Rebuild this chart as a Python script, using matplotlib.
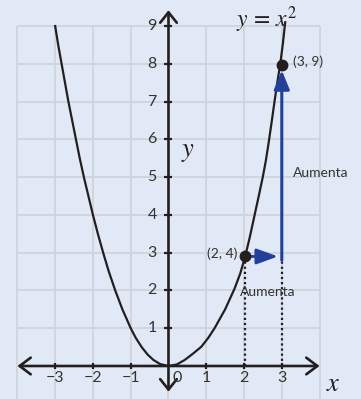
import numpy as np
import matplotlib
matplotlib.use("Agg")
import matplotlib.pyplot as plt

plt.rcParams['font.family'] = ['Lato', 'DejaVu Sans']
plt.rcParams['mathtext.fontset'] = 'stix'

# curve as drawn, left and right branches
left_x = [-3.0, -2.92, -2.83, -2.74, -2.65, -2.55, -2.45, -2.35, -2.24, -2.12, -2.0,
          -1.87, -1.73, -1.58, -1.41, -1.22, -1.0, -0.87, -0.71, -0.55, -0.4, -0.22, 0.0]
left_y = [9.0, 8.5, 8.0, 7.5, 7.0, 6.5, 6.0, 5.5, 5.0, 4.5, 4.0,
          3.5, 3.0, 2.5, 2.0, 1.5, 1.0, 0.75, 0.5, 0.3, 0.16, 0.05, 0.0]
right_x = [0.0, 0.22, 0.43, 0.64, 0.87, 1.05, 1.22, 1.5, 1.75, 1.9, 2.03, 2.15,
           2.27, 2.39, 2.5, 2.58, 2.65, 2.73, 2.8, 2.88, 2.96, 3.03, 3.09]
right_y = [0.0, 0.04, 0.16, 0.32, 0.51, 0.74, 1.0, 1.5, 2.05, 2.45, 2.9, 3.4,
           3.95, 4.5, 5.02, 5.45, 5.9, 6.45, 6.95, 7.5, 8.0, 8.55, 9.1]

# the two marked points (position on the picture and their labels)
pt_x = [2.03, 3.0]
pt_y = [2.9, 7.96]
pt_labels = ["(2, 4)", "(3, 9)"]

x_ticks = [-3, -2, -1, 0, 1, 2, 3]
x_ticklabels = ["\u22123", "\u22122", "\u22121", "0", "1", "2", "3"]
y_ticks = [1, 2, 3, 4, 5, 6, 7, 8, 9]

bg = "#e2e9f6"
gridc = "#d0d4db"
blue = "#22409a"
ink = "#231f20"
txt = "#333333"

fig = plt.figure(figsize=(3.61, 3.99), dpi=100, facecolor=bg)
ax = fig.add_axes([0, 0, 1, 1])
ax.set_facecolor(bg)
ax.set_xlim(-4.461, 5.097)
ax.set_ylim(-0.874, 9.690)
ax.axis("off")

# grid
ax.vlines(range(-4, 5), -0.874, 9, color=gridc, lw=1.3, zorder=0)
ax.hlines(range(1, 10), -4, 4, color=gridc, lw=1.3, zorder=0)

# axes with open arrowheads
ax.annotate("", xy=(4, 0), xytext=(-4, 0),
            arrowprops=dict(arrowstyle="<->,head_length=0.8,head_width=0.6",
                            lw=1.9, color=ink, shrinkA=0, shrinkB=0))
ax.annotate("", xy=(0, 9.42), xytext=(0, -0.68),
            arrowprops=dict(arrowstyle="<->,head_length=0.75,head_width=0.6",
                            lw=1.9, color=ink, shrinkA=0, shrinkB=0))

# tick marks
ax.plot([t for t in x_ticks if t != 0], [0] * 6, ls="none", marker="|",
        ms=5, mew=1.6, color=ink, zorder=3)
ax.plot([0] * len(y_ticks), y_ticks, ls="none", marker="_",
        ms=6, mew=1.6, color=ink, zorder=3)

for t, lab in zip(x_ticks, x_ticklabels):
    xx = 0.22 if t == 0 else t
    ax.text(xx, -0.33, lab, ha="center", va="center", fontsize=11.5, color=txt)
for t in y_ticks:
    ax.text(-0.31, t, str(t), ha="right", va="center", fontsize=11.5, color=txt)

# parabola
ax.plot(left_x, left_y, color=ink, lw=1.6, zorder=4, solid_joinstyle="round")
ax.plot(right_x, right_y, color=ink, lw=1.6, zorder=4, solid_joinstyle="round")

# dotted drop lines
ax.plot([pt_x[0], pt_x[0]], [0, pt_y[0]], color=ink, lw=1.6, ls=(0, (1, 1.3)), zorder=3)
ax.plot([pt_x[1], pt_x[1]], [0, 2.8], color=ink, lw=1.6, ls=(0, (1, 1.3)), zorder=3)

# blue arrows
ax.annotate("", xy=(2.9, 2.9), xytext=(pt_x[0], 2.9),
            arrowprops=dict(arrowstyle="-|>,head_length=1.3,head_width=0.47",
                            lw=2.0, color=blue, shrinkA=0, shrinkB=0), zorder=5)
ax.annotate("", xy=(3.0, 7.83), xytext=(3.0, 2.8),
            arrowprops=dict(arrowstyle="-|>,head_length=1.15,head_width=0.47",
                            lw=2.2, color=blue, shrinkA=0, shrinkB=0), zorder=5)

# points
ax.plot(pt_x, pt_y, ls="none", marker="o", ms=7.5, color=ink, zorder=6)
ax.text(1.82, 2.98, pt_labels[0], ha="right", va="center", fontsize=10, color=txt)
ax.text(3.29, 8.06, pt_labels[1], ha="left", va="center", fontsize=10, color=txt)

ax.text(3.30, 5.11, "Aumenta", ha="left", va="center", fontsize=10, color=txt)
ax.text(2.62, 1.97, "Aumenta", ha="center", va="center", fontsize=10, color=txt, zorder=7)

ax.text(2.60, 9.16, r"$y\,=\,x^2$", ha="center", va="center", fontsize=17, color=ink)
ax.text(0.52, 5.67, r"$y$", ha="center", va="center", fontsize=19, color=ink)
ax.text(4.36, -0.46, r"$x$", ha="center", va="center", fontsize=19, color=ink)

fig.savefig("out.png", dpi=100, facecolor=bg)
